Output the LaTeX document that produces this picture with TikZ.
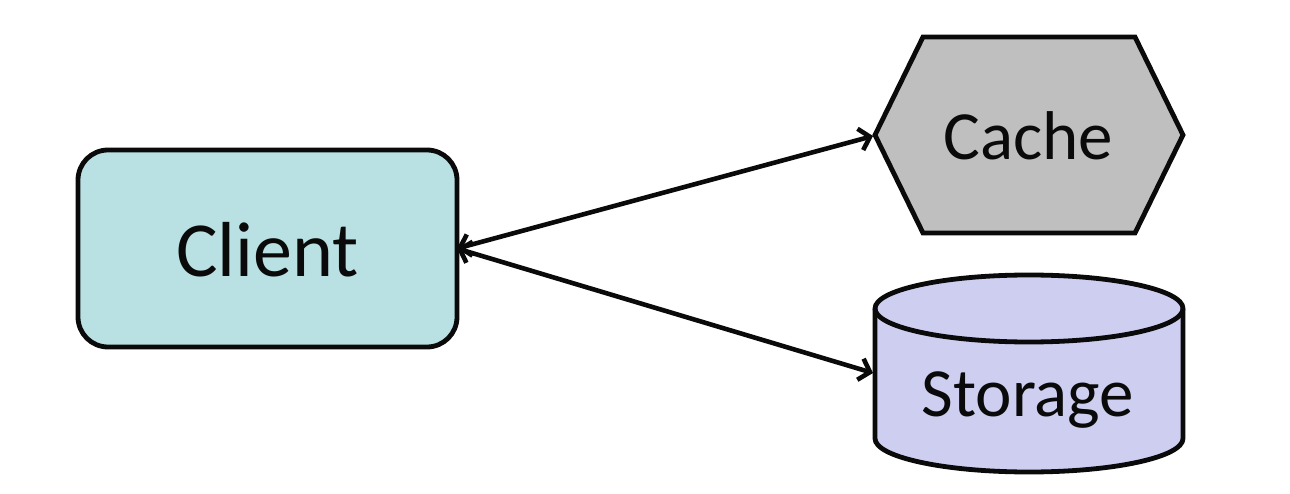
\documentclass[tikz,border=0pt]{standalone}
\usepackage{fontspec}
\setmainfont{Carlito}
\usetikzlibrary{arrows.meta}
\definecolor{clientfill}{RGB}{185,224,226}
\definecolor{cachefill}{RGB}{191,191,191}
\definecolor{storagefill}{RGB}{205,206,240}
\definecolor{inkcol}{RGB}{10,10,10}
\begin{document}
\begin{tikzpicture}[x=1pt,y=-1pt,
  shapeline/.style={draw=inkcol,line width=4.8pt},
  label/.style={inner sep=0pt,anchor=base,text=inkcol},
  link/.style={draw=inkcol,line width=4.6pt,{Straight Barb[length=10pt,width=22pt]}-{Straight Barb[length=10pt,width=22pt]}}]
\useasboundingbox (0,0) rectangle (1290,494);
% Client
\node[shapeline,fill=clientfill,rounded corners=30pt,minimum width=379pt,minimum height=197pt,inner sep=0pt,outer sep=0pt] (client) at (267.5,248.5) {};
\node[label,font=\fontsize{78}{80}\selectfont] (clienttext) at (267.5,277) {Client};
% Cache hexagon
\path[shapeline,fill=cachefill] (923,37) -- (1135,37) -- (1183,135) -- (1135,233) -- (923,233) -- (875,135) -- cycle;
\coordinate (cachetip) at (873,136);
\node[label,font=\fontsize{69}{72}\selectfont] (cache) at (1028.5,160) {Cache};
% Storage cylinder
\path[shapeline,fill=storagefill] (875,308.5) -- (875,438.5) arc (180:360:154pt and 33.5pt) -- (1183,308.5) arc (0:180:154pt and 33.5pt) -- cycle;
\draw[shapeline] (875,308.5) arc (180:360:154pt and 33.5pt);
\coordinate (storagetip) at (873,373);
\node[label,font=\fontsize{69}{72}\selectfont] (storage) at (1028,416) {Storage};
% connectors
\draw[link] (client.east) -- (cachetip);
\draw[link] (client.east) -- (storagetip);
\end{tikzpicture}
\end{document}
